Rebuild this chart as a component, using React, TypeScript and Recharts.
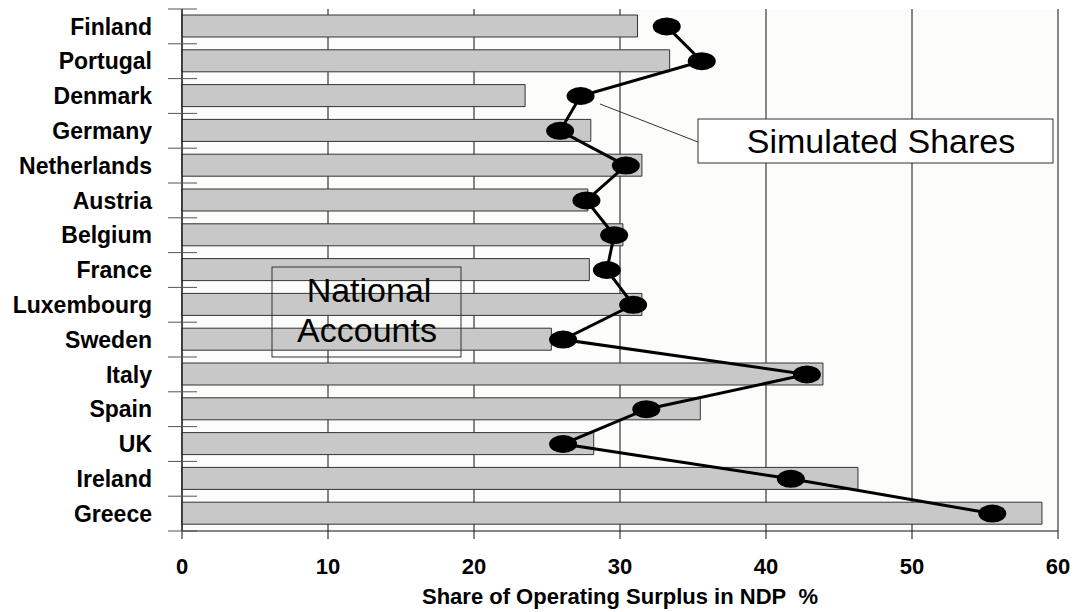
import React from 'react';
import {
  ComposedChart,
  Bar,
  Line,
  XAxis,
  YAxis,
  CartesianGrid,
} from 'recharts';

const countries = [
  'Finland', 'Portugal', 'Denmark', 'Germany', 'Netherlands', 'Austria', 'Belgium',
  'France', 'Luxembourg', 'Sweden', 'Italy', 'Spain', 'UK', 'Ireland', 'Greece',
];
const nationalAccounts = [31.2, 33.4, 23.5, 28.0, 31.5, 27.8, 30.2, 27.9, 31.5, 25.3, 43.9, 35.5, 28.2, 46.3, 58.9];
const simulatedShares = [33.2, 35.6, 27.3, 25.9, 30.4, 27.7, 29.6, 29.1, 30.9, 26.1, 42.8, 31.8, 26.1, 41.7, 55.5];
const xTicks = [0, 10, 20, 30, 40, 50, 60];

const data = countries.map((c, i) => ({ country: c, na: nationalAccounts[i], sim: simulatedShares[i] }));

const FONT = "Arial, 'Liberation Sans', Helvetica, sans-serif";
const W = 1074;
const H = 612;
const MARGIN = { top: 9, right: 16, bottom: 0, left: 0 };
const Y_AXIS_W = 182;
const X_AXIS_H = 81;
const PLOT_TOP = MARGIN.top;
const PLOT_BOTTOM = H - X_AXIS_H - MARGIN.bottom;
const BAND = (PLOT_BOTTOM - PLOT_TOP) / countries.length;

const CountryTick = (props: any) => {
  const { y, payload } = props;
  const isLast = payload.value === countries[countries.length - 1];
  return (
    <g>
      <text
        x={Y_AXIS_W - 30}
        y={y}
        dy="0.36em"
        textAnchor="end"
        fontFamily={FONT}
        fontWeight="bold"
        fontSize={23}
        fill="#000"
      >
        {payload.value}
      </text>
      <line x1={Y_AXIS_W - 14} x2={Y_AXIS_W + 15} y1={y - BAND / 2} y2={y - BAND / 2} stroke="#555" strokeWidth={1} />
      {isLast && (
        <line x1={Y_AXIS_W - 14} x2={Y_AXIS_W + 15} y1={y + BAND / 2} y2={y + BAND / 2} stroke="#555" strokeWidth={1} />
      )}
    </g>
  );
};

const Marker = (p: any) => (
  <ellipse key={`m-${p.index}`} cx={p.cx} cy={p.cy} rx={14} ry={9} fill="#000" />
);

export default function App() {
  return (
    <div style={{ position: 'absolute', left: 0, top: 0, width: W, height: H, background: '#fff' }}>
      <ComposedChart width={W} height={H} data={data} layout="vertical" margin={MARGIN}>
        <CartesianGrid horizontal={false} stroke="#111" fill="#fcfcfa" fillOpacity={1} />
        <XAxis
          type="number"
          domain={[0, 60]}
          ticks={xTicks}
          height={X_AXIS_H}
          tickSize={8}
          tickMargin={19}
          axisLine={{ stroke: '#111' }}
          tickLine={{ stroke: '#111' }}
          tick={{ fontFamily: FONT, fontWeight: 'bold', fontSize: 22, fill: '#000' }}
          label={{
            value: 'Share of Operating Surplus in NDP\u00A0 %',
            position: 'insideBottom',
            offset: 8,
            style: { fontFamily: FONT, fontWeight: 'bold', fontSize: 22, fill: '#000' },
          }}
        />
        <XAxis
          xAxisId="top"
          type="number"
          domain={[0, 60]}
          orientation="top"
          height={0}
          tick={false}
          tickLine={false}
          axisLine={{ stroke: '#111' }}
        />
        <YAxis
          type="category"
          dataKey="country"
          width={Y_AXIS_W}
          interval={0}
          tickLine={false}
          axisLine={{ stroke: '#111' }}
          tick={<CountryTick />}
        />
        <Bar dataKey="na" fill="#c8c8c8" stroke="#333" strokeWidth={1} barSize={22} isAnimationActive={false} />
        <Line
          dataKey="sim"
          type="linear"
          stroke="#000"
          strokeWidth={3}
          dot={Marker}
          activeDot={false}
          isAnimationActive={false}
        />
      </ComposedChart>
      <svg
        width={W}
        height={H}
        style={{ position: 'absolute', left: 0, top: 0, pointerEvents: 'none' }}
      >
        <line x1={600} y1={104} x2={698} y2={142} stroke="#333" strokeWidth={1} />
        <rect x={698} y={119} width={355} height={44} fill="#fff" stroke="#333" strokeWidth={1} />
        <text x={881} y={153} textAnchor="middle" fontFamily={FONT} fontSize={34} fill="#000">
          Simulated Shares
        </text>
        <rect x={272} y={267} width={189} height={90} fill="none" stroke="#333" strokeWidth={1} />
        <text x={369} y={302} textAnchor="middle" fontFamily={FONT} fontSize={34} fill="#000">
          National
        </text>
        <text x={367} y={342} textAnchor="middle" fontFamily={FONT} fontSize={34} fill="#000">
          Accounts
        </text>
      </svg>
    </div>
  );
}
